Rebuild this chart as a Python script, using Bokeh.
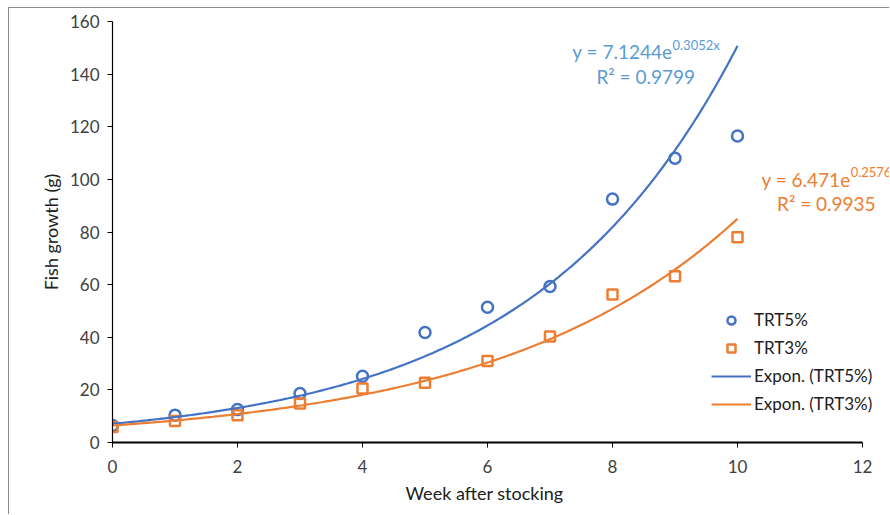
import numpy as np
from bokeh.plotting import figure
from bokeh.models import Range1d, Legend, LegendItem, Label, FixedTicker, Title
from bokeh.embed import file_html
from bokeh.resources import INLINE

weeks = [0, 1, 2, 3, 4, 5, 6, 7, 8, 9, 10]
trt5 = [6.5, 10.4, 12.5, 18.6, 25.2, 41.8, 51.4, 59.3, 92.5, 108.0, 116.5]
trt3 = [5.9, 8.2, 10.4, 14.8, 20.5, 22.7, 31.0, 40.3, 56.2, 63.2, 78.0]

# Exponential trendline coefficients shown on the chart
a5, b5 = 7.1244, 0.3052
a3, b3 = 6.471, 0.2576
x_ticks = [0, 2, 4, 6, 8, 10, 12]
y_ticks = [0, 20, 40, 60, 80, 100, 120, 140, 160]

BLUE = "#4472C4"
ORANGE = "#ED7D31"
LBLUE = "#5B9BD5"
FONT = "Lato"

p = figure(width=881, height=507, output_backend="svg", toolbar_location=None,
           x_range=Range1d(0, 12.448), y_range=Range1d(0, 160),
           min_border_left=103, min_border_right=0, min_border_top=13, min_border_bottom=73)
p.styles = {"margin-left": "8px", "margin-top": "7px",
            "border-left": "1px solid #8c8c8c", "border-top": "1px solid #8c8c8c"}
p.outline_line_color = None
p.grid.visible = False

for ax in (p.xaxis, p.yaxis):
    ax.axis_line_color = "black"
    ax.major_tick_line_color = "black"
    ax.minor_tick_line_color = None
    ax.major_tick_in = 0
    ax.major_tick_out = 5
    ax.major_label_text_font = FONT
    ax.major_label_text_font_size = "17px"
    ax.major_label_text_color = "#404040"
    ax.axis_label_text_font = FONT
    ax.axis_label_text_font_size = "18px"
    ax.axis_label_text_font_style = "normal"
    ax.axis_label_text_color = "#202020"
p.xaxis.axis_line_width = 2
p.yaxis.axis_line_width = 1.2
p.xaxis.bounds = (0, 12)
p.xaxis.ticker = FixedTicker(ticks=x_ticks)
p.yaxis.ticker = FixedTicker(ticks=y_ticks)
p.yaxis.axis_label = "Fish growth (g)"
p.xaxis.major_label_standoff = 12
p.yaxis.major_label_standoff = 8
p.yaxis.axis_label_standoff = 5

xlabel = Title(text="Week after stocking", align="left", offset=293, standoff=8,
               text_font=FONT, text_font_size="18px", text_font_style="normal",
               text_color="#202020")
p.add_layout(xlabel, "below")

r5 = p.scatter(weeks, trt5, marker="circle", size=11, line_color=BLUE, line_width=2.5, fill_color=None)
r3 = p.scatter(weeks, trt3, marker="square", size=10, line_color=ORANGE, line_width=2.5, fill_color=None)

xs = np.linspace(0, 10, 200)
l5 = p.line(xs, a5 * np.exp(b5 * xs), line_color=BLUE, line_width=2.2)
l3 = p.line(xs, a3 * np.exp(b3 * xs), line_color=ORANGE, line_width=2.2)

legend = Legend(items=[
    LegendItem(label="TRT5%", renderers=[r5]),
    LegendItem(label="TRT3%", renderers=[r3]),
    LegendItem(label="Expon. (TRT5%)", renderers=[l5]),
    LegendItem(label="Expon. (TRT3%)", renderers=[l3]),
], location=(599, 28), orientation="vertical")
legend.background_fill_alpha = 0
legend.border_line_color = None
legend.label_text_font = FONT
legend.label_text_font_size = "17px"
legend.label_text_color = "#202020"
legend.glyph_width = 40
legend.glyph_height = 20
legend.label_height = 20
legend.spacing = 7
legend.padding = 0
legend.margin = 0
legend.label_standoff = 3
p.add_layout(legend)

def txt(xa, ya, s, color, size, align):
    p.add_layout(Label(x=xa, y=ya, text=s, text_align=align, text_baseline="middle",
                       text_font=FONT, text_font_size=size, text_color=color))

txt(8.96, 148.5, "y = 7.1244e", LBLUE, "19px", "right")
txt(8.96, 151.2, "0.3052x", LBLUE, "13px", "left")
txt(9.32, 139.2, "R² = 0.9799", LBLUE, "19px", "right")
txt(11.81, 100.0, "y = 6.471e", ORANGE, "19px", "right")
txt(11.81, 102.7, "0.2576x", ORANGE, "13px", "left")
txt(12.21, 90.8, "R² = 0.9935", ORANGE, "19px", "right")

open("out.html", "w").write(file_html(p, INLINE))
